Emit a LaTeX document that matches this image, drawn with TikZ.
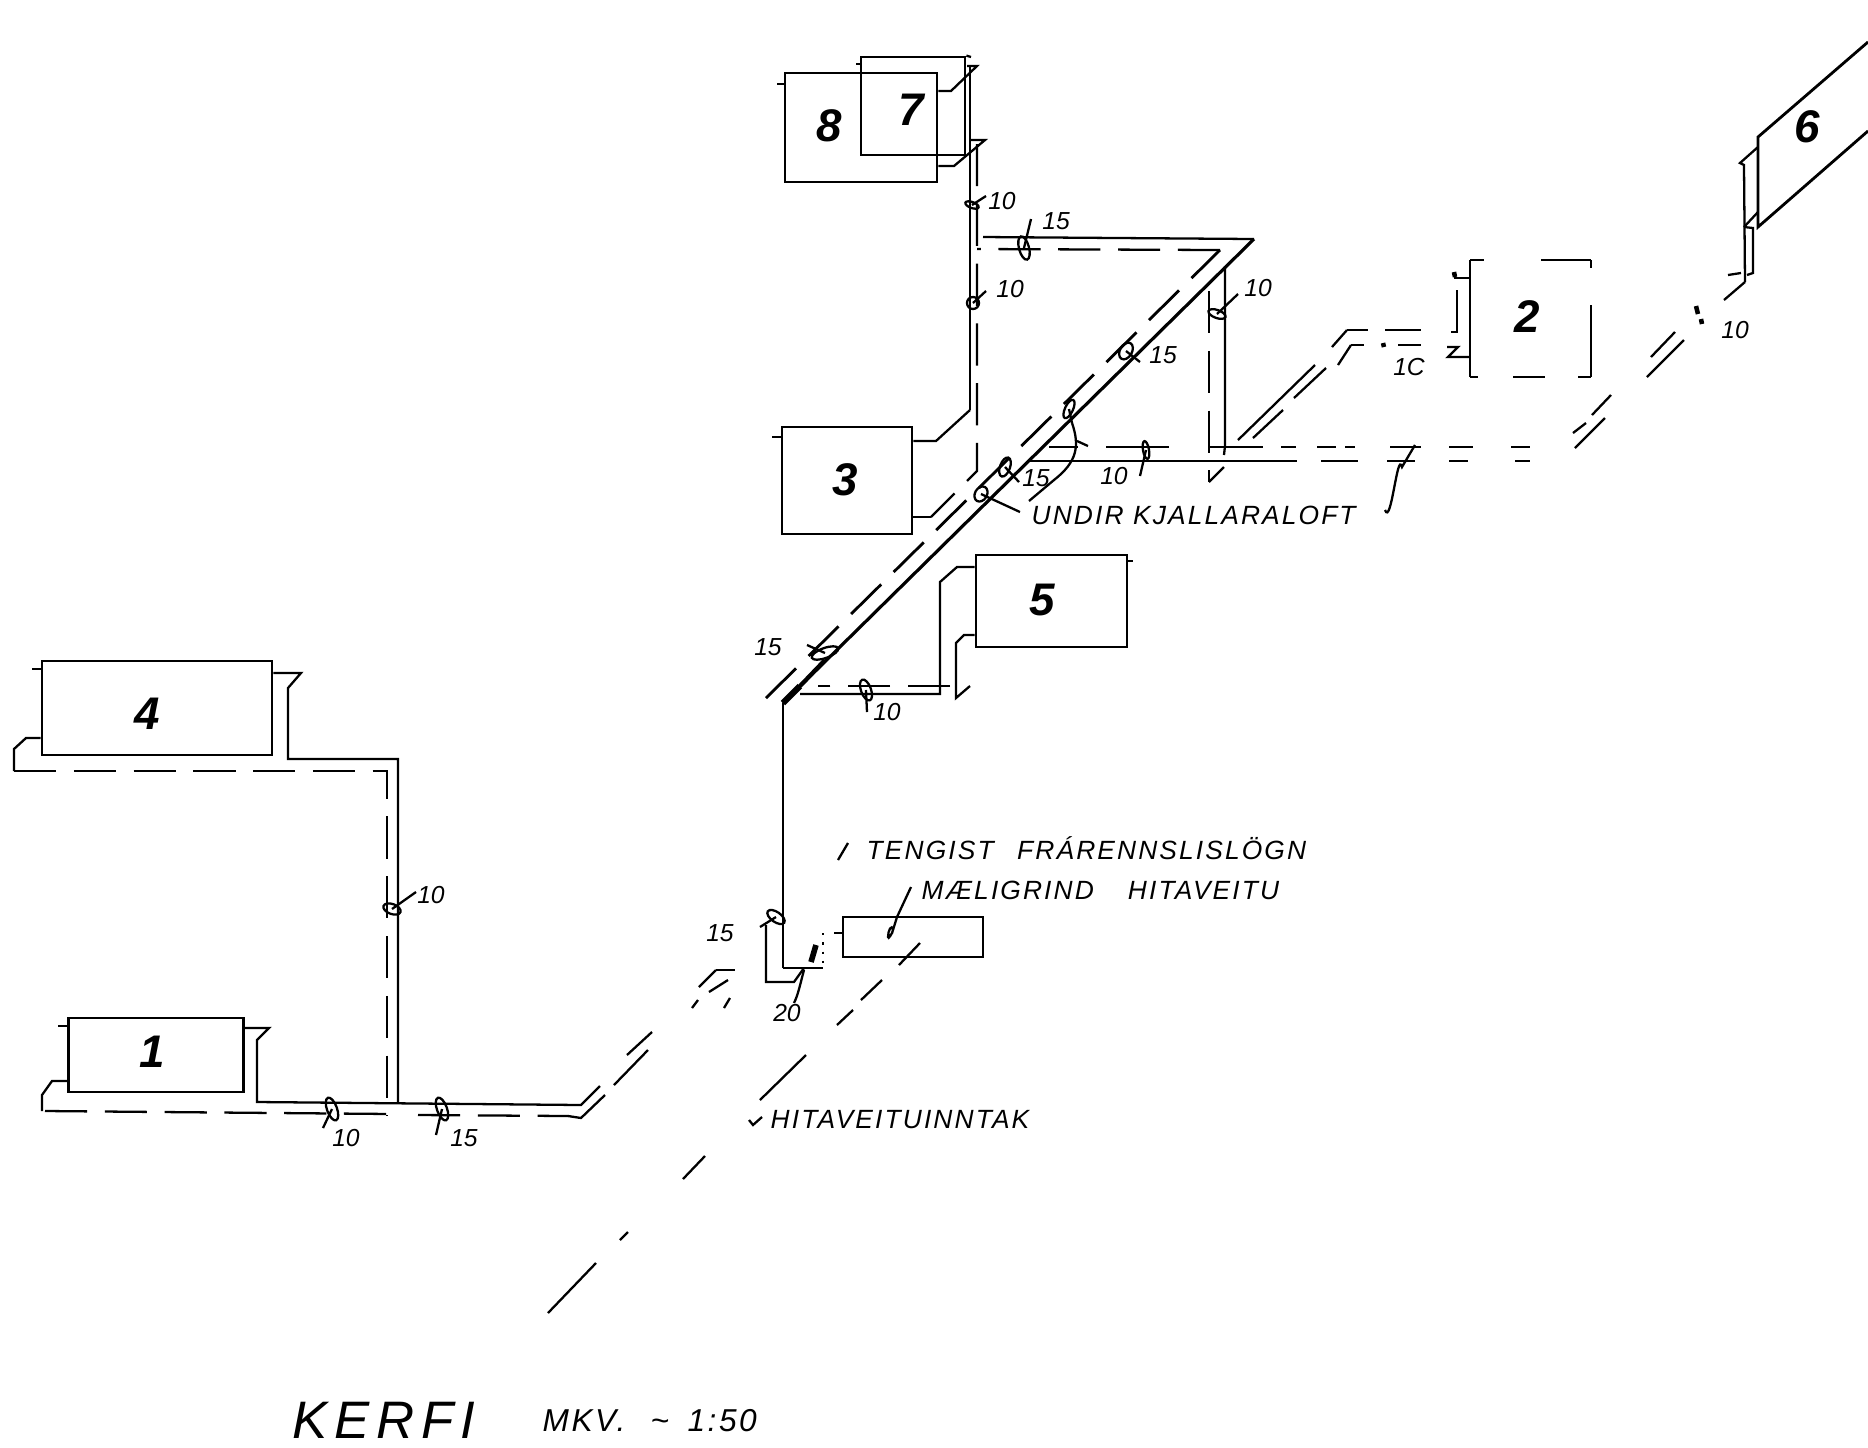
\documentclass[tikz,border=0pt]{standalone}
\usepackage{fontspec}
\setmainfont{Liberation Sans}
\newfontfamily\handfont[LetterSpace=8]{Liberation Sans}
\newfontfamily\widefont[LetterSpace=13]{Liberation Sans}
\usepackage{tikz}

\begin{document}
\begin{tikzpicture}
[x=.01cm,y=-.01cm]
\tikzset{radi/.style 2 args={draw,line width=.8pt,inner sep=0pt,minimum width=#1cm,minimum height=#2cm}}
\tikzset{rim/.style={line width=.8pt}}
\tikzset{pipe/.style={line width=.65pt,line join=miter}}
\tikzset{hwy/.style={pipe,dash pattern=on 12pt off 5pt}}
\tikzset{num/.style={font=\fontsize{13}{13}\selectfont\bfseries\itshape,inner sep=0pt}}
\tikzset{dimen/.style={font=\fontsize{7}{7}\selectfont\itshape,inner sep=0pt}}
\tikzset{lettering/.style={font=\fontsize{7.5}{7.5}\selectfont\handfont\itshape,inner sep=0pt,anchor=west}}
\useasboundingbox (0,0) rectangle (1868,1447);
% radiators
\node [radi={2.30}{.94}] (r4) at (157,708) {};
\node [radi={1.745}{.74}] (r1) at (156,1055) {};
\node [radi={1.30}{1.07}] (r3) at (847,480.5) {};
\node [radi={1.51}{.92}] (r5) at (1051.5,601) {};
\node [radi={1.52}{1.09}] (r8) at (861,127.5) {};
\node [radi={1.04}{.98}] (r7) at (913,106) {};
\node [radi={1.40}{.40}] (mg) at (913,937) {};
\foreach \name/\cx/\cy in {1/152/1052,2/1527/317,3/845/480,4/147/714,5/1042/600,6/1807/127,7/911/110,8/829/126}
	\node [num] (lab\name) at (\cx,\cy) {\name};
% main riser and long diagonal
\coordinate (foot) at (783,968);
\coordinate (bend) at (783,703);
\coordinate (apex) at (1254,239);
\coordinate (inner) at (1220,250);
\coordinate (outer) at (766,698);
\draw [pipe] (foot) -- (bend);
\draw [pipe,line width=.9pt] (bend) -- (apex);
\draw [pipe] (apex) -- (983,237);
\draw [hwy,line width=.8pt] (outer) -- (inner);
\draw [hwy] (inner) -- (977,249);
\draw [line width=1.8pt] (bend) -- (800,686);
\draw [line width=1.2pt] (800,686) -- (825,660);
% riser to 7 and 8
\draw [pipe] (970,410) -- (970,66);
\draw [hwy] (977,144) -- (977,471) -- (931,517);
\draw [pipe] (r3.east |- 0,441) -- (936,441) -- (970,410);
\draw [pipe] (r3.east |- 0,517) -- (931,517);
\draw [pipe] (r8.east |- 0,91) -- (951,91) -- (977,66) -- (967,66);
\draw [pipe] (r8.east |- 0,166) -- (954,166) -- (985,140) -- (969,140);
\draw [pipe] (r3.west |- 0,437) -- (772,437);
\draw [pipe] (r8.west |- 0,84) -- (777,84);
\draw [pipe] (r7.west |- 0,64) -- (856,64);
\draw [pipe] (r7.north east) -- (971,57);
% radiator 5
\draw [pipe] (r5.west |- 0,567) -- (957,567) -- (940,582) -- (940,694) -- (800,694);
\draw [pipe] (r5.west |- 0,635) -- (964,635) -- (956,643) -- (956,698) -- (970,686);
\draw [hwy] (950,686) -- (818,686);
\draw [pipe] (r5.east |- 0,561) -- (1133,561);
% radiators 4 and 1, left part
\draw [pipe] (r4.east |- 0,673) -- (301,673) -- (288,688) -- (288,759) -- (398,759) -- (398,1102);
\draw [pipe] (r4.west |- 0,738) -- (26,738) -- (14,749) -- (14,771);
\draw [hwy] (14,771) -- (387,771) -- (387,1116);
\draw [pipe] (r4.west |- 0,669) -- (32,669);
\draw [pipe] (r1.east |- 0,1028) -- (269,1028) -- (257,1040) -- (257,1102) -- (581,1105) -- (600,1086);
\draw [pipe] (r1.west |- 0,1081) -- (52,1081) -- (42,1095) -- (42,1111);
\draw [hwy] (45,1111) -- (392,1114);
\draw [hwy] (418,1115) -- (568,1116);
\draw [pipe] (r1.west |- 0,1026) -- (58,1026);
\draw [pipe] (568,1116) -- (581,1118) -- (605,1095);
% dashed run from left part up to the riser foot
\foreach \ax/\ay/\bx/\by in {614/1085/648/1050,627/1055/652/1032,699/987/716/970,716/970/735/970,709/992/728/980,
	692/1008/698/1000,724/1008/730/998}
	\draw [pipe] (\ax,\ay) -- (\bx,\by);
% riser foot
\draw [pipe] (foot) -- (823,968);
\draw [pipe] (766,925) -- (766,982) -- (794,982) -- (804,968);
\draw [pipe,dotted] (823,933) -- (823,968);
\draw [line width=1.6pt] (811,962) -- (816,945);
% meter
\draw [pipe] (mg.west |- 0,933) -- (834,933);
\draw [pipe] (911,887) -- (897,917) -- (893,930) to[out=100,in=90,looseness=2] (888,937) to[out=270,in=260] (893,930);
\foreach \ax/\ay/\bx/\by in {920/943/899/965,882/980/861/1000,853/1010/837/1025,806/1055/760/1100,705/1156/683/1179,
	628/1232/620/1240,596/1263/548/1313}
	\draw [pipe] (\ax,\ay) -- (\bx,\by);
\draw [pipe] (838,860) -- (848,843);
\draw [pipe] (749,1120) -- (753,1125) -- (762,1117);
% branch under the ceiling
\draw [pipe] (1225,266) -- (1225,446) -- (1224,455);
\draw [hwy] (1209,291) -- (1209,482);
\draw [pipe] (1209,482) -- (1224,467);
\foreach \ax/\bx in {1049/1078,1106/1169,1210/1263,1281/1296,1317/1336,1345/1355,1390/1421,1449/1473,1511/1530}
	\draw [pipe] (\ax,447) -- (\bx,447);
\foreach \ax/\bx in {1029/1297,1321/1358,1387/1415,1449/1468,1515/1530}
	\draw [pipe] (\ax,461) -- (\bx,461);
\draw [pipe] (1415,445) -- (1402,467) to[out=105,in=-70] (1385,510);
% box 2, only pieces of its outline
\foreach \ax/\ay/\bx/\by in {1470/260/1470/377,1470/260/1484/260,1541/260/1580/260,1580/260/1591/260,1591/260/1591/268,
	1591/305/1591/377,1470/377/1478/377,1513/377/1545/377,1578/377/1591/377}
	\draw [rim] (\ax,\ay) -- (\bx,\by);
\draw [pipe] (1454,278) -- (1470,278);
\draw [pipe] (1457,290) -- (1457,332) -- (1451,332);
\draw [pipe] (1447,347) -- (1458,347) -- (1448,357) -- (1470,357);
\foreach \ax/\ay/\bx/\by in {1347/330/1368/330,1385/330/1421/330,1351/345/1364/345,1398/345/1421/345,
	1347/330/1332/347,1351/345/1338/365,1315/365/1238/440,1326/368/1294/398,1283/410/1253/438}
	\draw [pipe] (\ax,\ay) -- (\bx,\by);
% dots the pencil left
\foreach \ax/\ay/\bx/\by in {1454/272/1455/277,1383/343/1384/347,1696/306/1698/314,1701/319/1702/324}
	\draw [line width=1.3pt] (\ax,\ay) -- (\bx,\by);
% towards 6
\foreach \ax/\ay/\bx/\by in {1575/448/1605/418,1573/433/1586/423,1592/415/1611/395,1647/377/1684/340,1651/357/1675/332,
	1724/300/1745/282}
	\draw [pipe] (\ax,\ay) -- (\bx,\by);
\draw [pipe] (1745,282) -- (1744,165) -- (1740,163) -- (1758,147);
\draw [pipe] (1744,227) -- (1758,212);
\draw [pipe] (1744,227) -- (1753,228) -- (1753,273) -- (1747,275);
\draw [pipe] (1728,275) -- (1741,273);
\draw [rim] (1868,42) -- (1758,137) -- (1758,227) -- (1868,131);
% size marks on pipes
\foreach \cx/\cy/\rx/\ry/\rot/\tx/\ty in {392/909/9/5/-20/416/892,332/1109/5/12/20/323/1128,442/1109/5/12/20/436/1135,
	825/653/14/5/20/807/645,866/690/5/11/20/867/712,972/205/7/3/-20/986/196,973/303/6/6/0/986/291,
	1024/248/5/12/15/1031/219,1217/314/9/4/-20/1238/294,1126/351/6/9/-30/1140/362,1069/409/4/10/-25/1072/423,
	1005/467/5/10/-20/1019/482,981/494/6/8/-30/1020/512,776/917/10/5/-35/760/927,1146/450/3/9/10/1140/476}
{
	\draw [pipe] [rotate around={\rot:(\cx,\cy)}] (\cx,\cy) ellipse [x radius=\rx,y radius=\ry];
	\draw [pipe] (\cx,\cy) -- (\tx,\ty);
}
\draw [pipe] (1072,423) .. controls (1080,446) and (1077,462) .. (1054,480) -- (1029,501);
\draw [pipe] (1077,441) -- (1088,446);
\draw [pipe] (804,970) .. controls (800,985) and (798,995) .. (794,1003);
% labels
\foreach \name/\cx/\cy/\txt in {a/431/895/10,b/346/1138/10,c/464/1138/15,d/768/647/15,e/887/712/10,f/1002/201/10,g/1010/289/10,
	h/1056/221/15,i/1258/288/10,j/1163/355/15,k/1036/478/15,l/1114/476/10,m/720/933/15,n/787/1013/20,o/1409/367/1C,p/1735/330/10}
	\node [dimen] (dim\name) at (\cx,\cy) {\txt};
\node [lettering] (undir) at (1031,515) {UNDIR KJALLARALOFT};
\node [lettering] (tengist) at (866,848) {TENGIST\hspace{4pt} FRÁRENNSLISLÖGN};
\node [lettering] (maeli) at (921,890) {MÆLIGRIND\hspace{7pt} HITAVEITU};
\node [lettering] (inntak) at (770,1120) {HITAVEITUINNTAK};
\node [inner sep=0pt,anchor=west,font=\fontsize{15}{15}\selectfont\widefont\itshape] (kerfi) at (292,1420) {KERFI};
\node [inner sep=0pt,anchor=west,font=\fontsize{9}{9}\selectfont\handfont\itshape] (skali) at (542,1421) {MKV.\hspace{4pt} \char"007E\hspace{2pt} 1:50};
\end{tikzpicture}
\end{document}
